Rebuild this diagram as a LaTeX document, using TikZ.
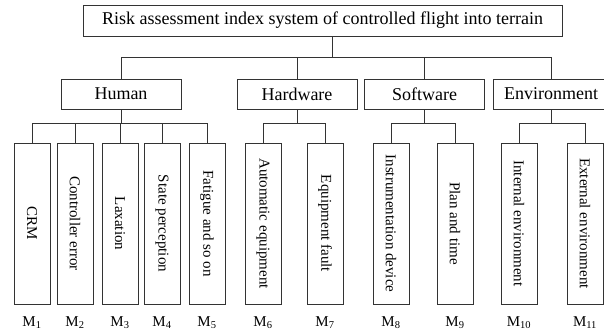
\documentclass[tikz,border=0pt]{standalone}
\usepackage{fontspec}
\setmainfont{Liberation Serif}
\usepackage{tikz}
\usetikzlibrary{positioning}

\begin{document}
\begin{tikzpicture}[
  x=1pt, y=-1pt,
  every node/.style={font=\fontsize{15}{17}\selectfont},
  box/.style={draw=black!80, line width=0.9pt, inner sep=0pt},
  rootbox/.style={box, minimum width=479pt, minimum height=31pt,
    font=\fontsize{18}{20}\selectfont},
  catbox/.style={box, minimum width=120pt, minimum height=30pt,
    font=\fontsize{18}{20}\selectfont},
  leafbox/.style={box, minimum width=36pt, minimum height=161pt},
  idx/.style={inner sep=0pt, below=12pt of #1},
  link/.style={draw=black!80, line width=0.8pt}
]
  \useasboundingbox (0,0) rectangle (604,334);

  \node[rootbox] (root) at (322.5,20.5) {Risk assessment index system of controlled flight into terrain};

  \node[catbox] (hum) at (121,94) {Human};
  \node[catbox] (hw) at (297,94) {Hardware};
  \node[catbox] (sw) at (424.5,94) {Software};
  \node[catbox, minimum width=116pt] (env) at (551,94) {Environment};

  \node[leafbox] (m1) at (32,223.5) {\rotatebox{-90}{CRM}};
  \node[leafbox] (m2) at (75,223.5) {\rotatebox{-90}{Controller error}};
  \node[leafbox] (m3) at (120,223.5) {\rotatebox{-90}{Laxation}};
  \node[leafbox] (m4) at (162,223.5) {\rotatebox{-90}{State perception}};
  \node[leafbox] (m5) at (207,223.5) {\rotatebox{-90}{Fatigue and so on}};
  \node[leafbox] (m6) at (263,223.5) {\rotatebox{-90}{Automatic equipment}};
  \node[leafbox] (m7) at (325,223.5) {\rotatebox{-90}{Equipment fault}};
  \node[leafbox] (m8) at (391,223.5) {\rotatebox{-90}{Instrumentation device}};
  \node[leafbox] (m9) at (455,223.5) {\rotatebox{-90}{Plan and time}};
  \node[leafbox] (m10) at (519,223.5) {\rotatebox{-90}{Internal environment}};
  \node[leafbox] (m11) at (585,223.5) {\rotatebox{-90}{External environment}};

  \node[idx=m1] (l1) {M\textsubscript{1}};
  \node[idx=m2] (l2) {M\textsubscript{2}};
  \node[idx=m3] (l3) {M\textsubscript{3}};
  \node[idx=m4] (l4) {M\textsubscript{4}};
  \node[idx=m5] (l5) {M\textsubscript{5}};
  \node[idx=m6] (l6) {M\textsubscript{6}};
  \node[idx=m7] (l7) {M\textsubscript{7}};
  \node[idx=m8] (l8) {M\textsubscript{8}};
  \node[idx=m9] (l9) {M\textsubscript{9}};
  \node[idx=m10] (l10) {M\textsubscript{10}};
  \node[idx=m11] (l11) {M\textsubscript{11}};

  % top level
  \draw[link] ([xshift=9.5pt]root.south) -- ++(0,21) coordinate (rbar);
  \draw[link] (rbar) -| (hum.north);
  \draw[link] (rbar) -| (hw.north);
  \draw[link] (rbar) -| (sw.north);
  \draw[link] (rbar) -| (env.north);

  % second level
  \draw[link] (hum.south) -- ++(0,13.5) coordinate (hbar);
  \draw[link] (hbar) -| (m1.north);
  \draw[link] (hbar) -| (m2.north);
  \draw[link] (hbar) -| (m3.north);
  \draw[link] (hbar) -| (m4.north);
  \draw[link] (hbar) -| (m5.north);
  \draw[link] (hw.south) -- ++(0,13.5) coordinate (wbar);
  \draw[link] (wbar) -| (m6.north);
  \draw[link] (wbar) -| (m7.north);
  \draw[link] (sw.south) -- ++(0,13.5) coordinate (sbar);
  \draw[link] (sbar) -| (m8.north);
  \draw[link] (sbar) -| (m9.north);
  \draw[link] (env.south) -- ++(0,13.5) coordinate (ebar);
  \draw[link] (ebar) -| (m10.north);
  \draw[link] (ebar) -| (m11.north);
\end{tikzpicture}
\end{document}
